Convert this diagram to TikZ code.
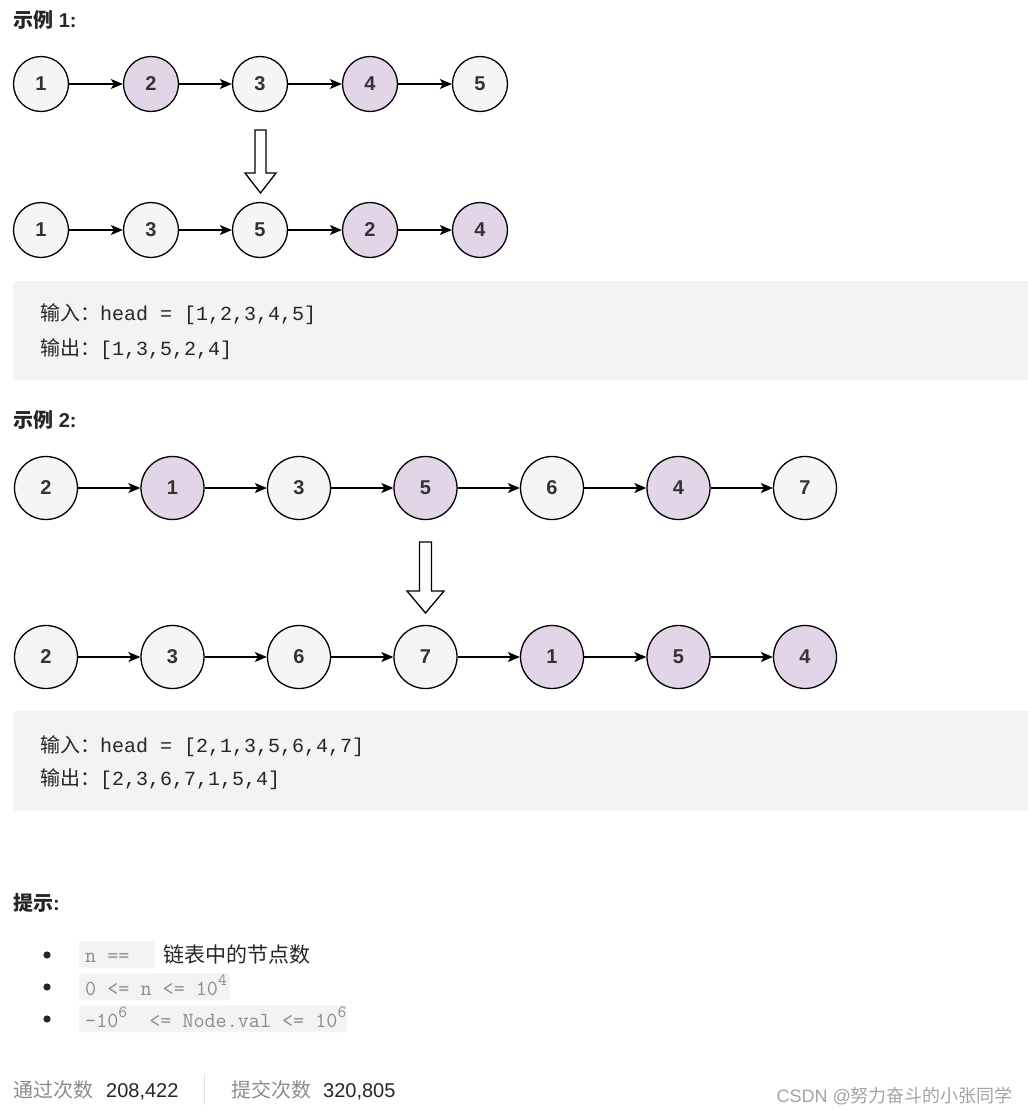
\documentclass[tikz,border=0pt]{standalone}
\usepackage{fontspec}
\setmainfont{Liberation Sans}
\setmonofont{Liberation Mono}
\newfontfamily\cjk{Noto Sans CJK SC}
\newfontfamily\lmmono{Latin Modern Mono}
\usetikzlibrary{arrows.meta}
\definecolor{nodegrey}{HTML}{F5F5F5}
\definecolor{nodepurple}{HTML}{E1D5E7}
\definecolor{codebg}{HTML}{F2F3F5}
\definecolor{txt}{HTML}{262626}
\definecolor{numtxt}{HTML}{333333}
\definecolor{hintgrey}{HTML}{8C8C8C}
\definecolor{sepgrey}{HTML}{DDDDDD}
\newcommand{\mysup}[1]{\raisebox{0.42em}{\fontsize{17}{17}\selectfont #1}}
\tikzset{
  lnode/.style={circle,draw=black,line width=1.3pt,inner sep=0pt,text=numtxt,
    font=\fontsize{20}{20}\selectfont\bfseries},
  small/.style={lnode,minimum size=55pt},
  big/.style={lnode,minimum size=63pt},
  gnode/.style={fill=nodegrey},
  pnode/.style={fill=nodepurple},
  link/.style={-{Stealth[length=12pt,width=10pt,inset=3pt]},line width=1.3pt,black},
  hollow/.style={draw=black,line width=1.3pt,fill=white,line join=miter},
  codebox/.style={fill=codebg,rounded corners=4pt},
  inlinebox/.style={fill=codebg,rounded corners=3pt},
  title/.style={anchor=base west,inner sep=0pt,text=txt,font=\fontsize{20}{20}\selectfont\bfseries},
  codetxt/.style={anchor=base west,inner sep=0pt,text=txt,font=\fontsize{20}{20}\selectfont\ttfamily},
  hinttxt/.style={anchor=base west,inner sep=0pt,text=hintgrey,font=\fontsize{21.5}{21.5}\selectfont\lmmono},
  foot/.style={anchor=base west,inner sep=0pt,font=\fontsize{20}{20}\selectfont},
}
\begin{document}
\begin{tikzpicture}[x=1pt,y=-1pt]
\useasboundingbox[fill=white] (0,0) rectangle (1028,1114);
\clip (0,0) rectangle (1028,1114);

% ---------- Example 1 ----------
\node[title] (t1) at (13,27) {{\cjk 示例} 1:};

\node[small,gnode]   (a1) at (41,84)  {1};
\node[small,pnode]   (a2) at (151,84) {2};
\node[small,gnode]   (a3) at (260,84) {3};
\node[small,pnode]   (a4) at (370,84) {4};
\node[small,gnode]   (a5) at (480,84) {5};
\foreach \i/\j in {a1/a2,a2/a3,a3/a4,a4/a5} \draw[link] (\i) -- (\j);

\draw[hollow] (255,130) -- (266,130) -- (266,173) -- (276,173) -- (260.5,193)
  -- (245,173) -- (255,173) -- cycle;

\node[small,gnode]   (b1) at (41,230)  {1};
\node[small,gnode]   (b2) at (151,230) {3};
\node[small,gnode]   (b3) at (260,230) {5};
\node[small,pnode]   (b4) at (370,230) {2};
\node[small,pnode]   (b5) at (480,230) {4};
\foreach \i/\j in {b1/b2,b2/b3,b3/b4,b4/b5} \draw[link] (\i) -- (\j);

\fill[codebox] (13,281) rectangle (1040,380);
\node[codetxt] (c1a) at (40,320) {{\cjk 输入：}head = [1,2,3,4,5]};
\node[codetxt] (c1b) at (40,355) {{\cjk 输出：}[1,3,5,2,4]};

% ---------- Example 2 ----------
\node[title] (t2) at (13,427) {{\cjk 示例} 2:};

\node[big,gnode] (d1) at (46,488)    {2};
\node[big,pnode] (d2) at (172.5,488) {1};
\node[big,gnode] (d3) at (299,488)   {3};
\node[big,pnode] (d4) at (425.5,488) {5};
\node[big,gnode] (d5) at (552,488)   {6};
\node[big,pnode] (d6) at (678.5,488) {4};
\node[big,gnode] (d7) at (805,488)   {7};
\foreach \i/\j in {d1/d2,d2/d3,d3/d4,d4/d5,d5/d6,d6/d7} \draw[link] (\i) -- (\j);

\draw[hollow] (419.5,542) -- (431.5,542) -- (431.5,591) -- (444,591) -- (425.5,613)
  -- (407,591) -- (419.5,591) -- cycle;

\node[big,gnode] (e1) at (46,657)    {2};
\node[big,gnode] (e2) at (172.5,657) {3};
\node[big,gnode] (e3) at (299,657)   {6};
\node[big,gnode] (e4) at (425.5,657) {7};
\node[big,pnode] (e5) at (552,657)   {1};
\node[big,pnode] (e6) at (678.5,657) {5};
\node[big,pnode] (e7) at (805,657)   {4};
\foreach \i/\j in {e1/e2,e2/e3,e3/e4,e4/e5,e5/e6,e6/e7} \draw[link] (\i) -- (\j);

\fill[codebox] (13,711) rectangle (1040,811);
\node[codetxt] (c2a) at (40,752) {{\cjk 输入：}head = [2,1,3,5,6,4,7]};
\node[codetxt] (c2b) at (40,785) {{\cjk 输出：}[2,3,6,7,1,5,4]};

% ---------- Hints ----------
\node[title] (t3) at (13,910) {{\cjk 提示}:};

\fill[txt] (47,955) circle (3.6pt);
\fill[txt] (47,987) circle (3.6pt);
\fill[txt] (47,1019) circle (3.6pt);

\fill[inlinebox] (79,941) rectangle (155,968);
\fill[inlinebox] (79,973) rectangle (230,1000);
\fill[inlinebox] (79,1005) rectangle (347,1032);

\node[hinttxt] (h1) at (85,962) {n ==};
\node[anchor=base west,inner sep=0pt,text=txt,font=\fontsize{21}{21}\selectfont\cjk] (h1b) at (163,962) {链表中的节点数};
\node[hinttxt] (h2) at (85,995) {0 <= n <= 10\mysup{4}};
\node[hinttxt] (h3) at (85,1027) {-10\mysup{6}~ <= Node.val <= 10\mysup{6}};

% ---------- Footer ----------
\node[foot,text=hintgrey] (f1) at (13,1097) {\cjk 通过次数};
\node[foot,text=txt] (f2) at (106,1097) {208,422};
\draw[sepgrey,line width=1pt] (204,1075) -- (204,1105);
\node[foot,text=hintgrey] (f3) at (231,1097) {\cjk 提交次数};
\node[foot,text=txt] (f4) at (323,1097) {320,805};
\node[anchor=base east,inner sep=0pt,text=hintgrey!80,font=\fontsize{18}{18}\selectfont] (wm) at (1013,1102) {CSDN @{\cjk 努力奋斗的小张同学}};
\end{tikzpicture}
\end{document}
